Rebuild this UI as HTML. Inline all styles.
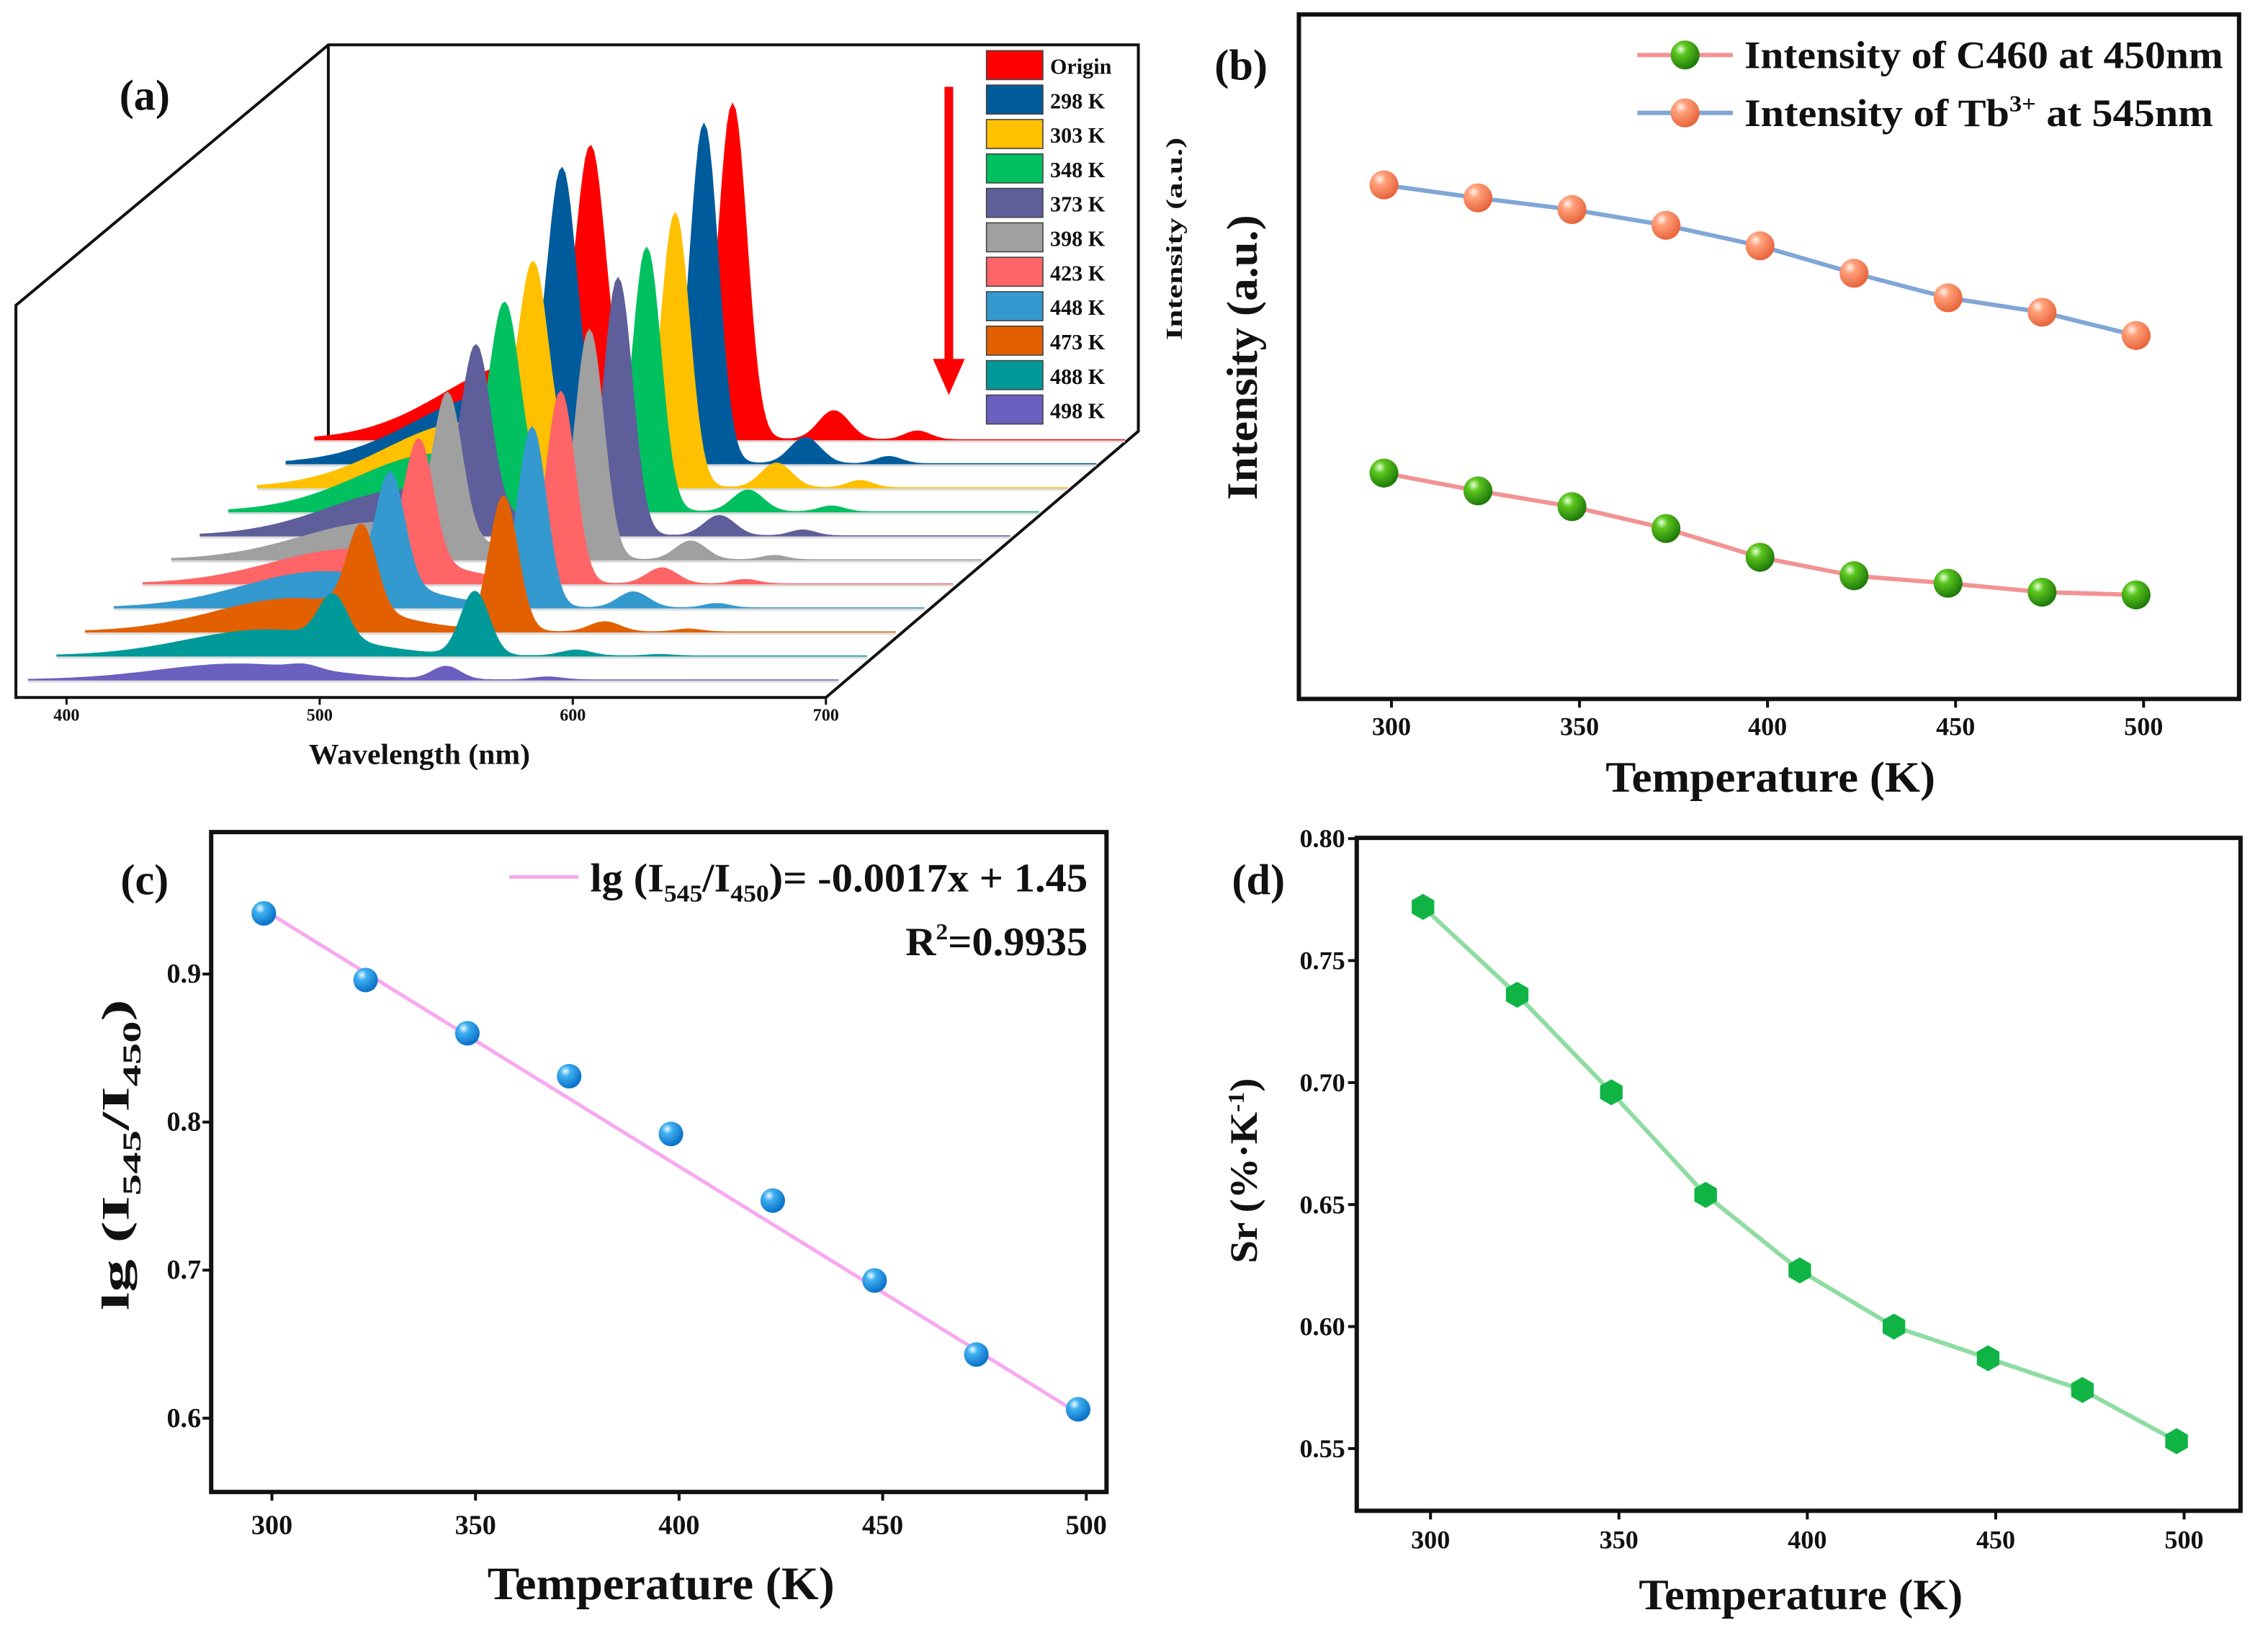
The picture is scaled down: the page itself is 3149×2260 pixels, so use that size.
<!DOCTYPE html>
<html><head><meta charset="utf-8">
<style>
html,body{margin:0;padding:0;background:#fff;}
svg{display:block;}
text{font-family:"Liberation Serif",serif;font-weight:bold;fill:#111;}
</style></head>
<body>
<svg id="fig" xmlns="http://www.w3.org/2000/svg" width="3149" height="2260" viewBox="0 0 1568 1125" preserveAspectRatio="none">
<defs>
<radialGradient id="gGreen" cx="0.35" cy="0.3" r="0.7"><stop offset="0" stop-color="#e8ffd8"/><stop offset="0.3" stop-color="#5cc61e"/><stop offset="1" stop-color="#1f7a0a"/></radialGradient>
<radialGradient id="gOrange" cx="0.35" cy="0.3" r="0.7"><stop offset="0" stop-color="#fff2ea"/><stop offset="0.3" stop-color="#ffa07a"/><stop offset="1" stop-color="#e8653c"/></radialGradient>
<radialGradient id="gBlue" cx="0.35" cy="0.3" r="0.7"><stop offset="0" stop-color="#f0fbff"/><stop offset="0.3" stop-color="#3fb0f0"/><stop offset="1" stop-color="#0a70c8"/></radialGradient>
</defs>
</svg>
<script>
// ---------- Panel (a) data ----------
const aLabels = ["Origin","298 K","303 K","348 K","373 K","398 K","423 K","448 K","473 K","488 K","498 K"];
const aColors = ["#ff0000","#005b9c","#ffc000","#00c060","#5e5e9a","#a0a0a0","#ff6466","#3499cf","#e36000","#009999","#6b5fc0"];
const aBand  = [53,48,45,40,32,26,24,25,23,18,11];
const aP490  = [165,170,124,116,109,97,83,76,58,30,3];
const aP545  = [230,233,188,181,177,158,132,124,93,44,9];
const aP585  = [20,18,17,15,14,13,11,11,7,4,2];
const aP620  = [6,5,5,4,4,3,3,3,2,1,0];
const aTicks = [400,500,600,700];
// ---------- Panel (b) data ----------
const bTemps = [298,323,348,373,398,423,448,473,498];
const bTb = [75.1,73.2,71.5,69.2,66.2,62.2,58.6,56.5,53.1];
const bC460 = [33.0,30.4,28.1,24.9,20.7,18.0,16.9,15.6,15.2];
const bTicks = [300,350,400,450,500];
// ---------- Panel (c) data ----------
const cTemps = [298,323,348,373,398,423,448,473,498];
const cRatio = [0.941,0.896,0.860,0.831,0.792,0.747,0.693,0.643,0.606];
const cFit = [-0.0017,1.45];
const cXTicks = [300,350,400,450,500];
const cYTicks = [0.6,0.7,0.8,0.9];
// ---------- Panel (d) data ----------
const dTemps = [298,323,348,373,398,423,448,473,498];
const dSr = [0.772,0.736,0.696,0.654,0.623,0.600,0.587,0.574,0.553];
const dXTicks = [300,350,400,450,500];
const dYTicks = ["0.55","0.60","0.65","0.70","0.75","0.80"];

const NS="http://www.w3.org/2000/svg";
const svg=document.getElementById('fig');
function mk(tag,attrs,parent){const e=document.createElementNS(NS,tag);for(const k in attrs)e.setAttribute(k,attrs[k]);(parent||svg).appendChild(e);return e;}
function txt(s,x,y,size,anchor,parent){const t=mk('text',{x:x,y:y,'font-size':size,'text-anchor':anchor||'middle'},parent);t.textContent=s;return t;}
function fit(t,len){t.setAttribute('textLength',len);t.setAttribute('lengthAdjust','spacingAndGlyphs');}

// ===== Panel (a) =====
const gA=mk('g',{});


const frameA=mk('path',{d:'M11,482 L11,211 L227,31 L787,31 L787,298 L571,482 Z M227,31 L227,303',fill:'none',stroke:'#111','stroke-width':2},gA);


const nRows=aLabels.length;
function rowX(i,l){return 46+(nRows-1-i)*19.8+(l-400)*1.75;}
function rowY0(i){return 470-(nRows-1-i)*16.6;}
function gauss(l,c,s){return Math.exp(-(l-c)*(l-c)/(2*s*s));}
for(let i=0;i<nRows;i++){
  const y0=rowY0(i);
  let d='M'+rowX(i,385).toFixed(1)+','+y0;
  for(let l=385;l<=705;l+=1){
    const v=aBand[i]*gauss(l,468,32)+aP490[i]*gauss(l,494,5.5)+aP545[i]*gauss(l,550,5.5)+aP585[i]*gauss(l,590,6)+aP620[i]*gauss(l,623,5);
    d+=' L'+rowX(i,l).toFixed(1)+','+(y0-v).toFixed(1);
  }
  d+=' L'+rowX(i,705).toFixed(1)+','+y0+' Z';
  const p=mk('path',{d:d,fill:aColors[i],stroke:aColors[i],'stroke-width':1},gA);
  
  
  const bl=mk('line',{x1:rowX(i,385),y1:y0+1,x2:rowX(i,705),y2:y0+1,stroke:'#ddd','stroke-width':1.5},gA);
  
  
}
aTicks.forEach(t=>{
  const x=rowX(nRows-1,t);
  const tk=mk('line',{x1:x,y1:482,x2:x,y2:487,stroke:'#111','stroke-width':1.5},gA);
  
  
  const tl=txt(String(t),x,498,12,'middle',gA);
  
  
});
const axA=txt('Wavelength (nm)',290,528,20,'middle',gA);
fit(axA,153);


const labA=txt('(a)',100,76,30,'middle',gA);


const legA=mk('g',{},gA);


for(let i=0;i<nRows;i++){
  const y=35+i*23.8;
  const r=mk('rect',{x:682,y:y,width:39,height:20,fill:aColors[i],stroke:'#444','stroke-width':0.8},legA);
  
  
  const t=txt(aLabels[i],726,y+16,15,'start',legA);
  
  
}
const arr=mk('path',{d:'M656,60 L656,252',stroke:'#ff0000','stroke-width':6,fill:'none'},gA);


const arrH=mk('path',{d:'M645,248 L667,248 L656,273 Z',fill:'#ff0000'},gA);



function frame(x1,y1,x2,y2,name,parent){const r=mk('rect',{x:x1,y:y1,width:x2-x1,height:y2-y1,fill:'none',stroke:'#111','stroke-width':3},parent);return r;}
function series(temps,vals,xf,yf,lineColor,lw,parent,name){
  const pts=temps.map((t,i)=>xf(t).toFixed(1)+','+yf(vals[i]).toFixed(1)).join(' ');
  const pl=mk('polyline',{points:pts,fill:'none',stroke:lineColor,'stroke-width':lw},parent);
  
  
}

// ===== Panel (b) =====
const gB=mk('g',{});


const bx=t=>962+(t-300)*2.6;
const by=v=>483-v*4.73;
frame(898,10,1548,483,'plot-frame-b',gB);
bTicks.forEach(t=>{
  const tk=mk('line',{x1:bx(t),y1:483,x2:bx(t),y2:489,stroke:'#111','stroke-width':2},gB);
  
  
  const tl=txt(String(t),bx(t),508,18,'middle',gB);
  
  
});
series(bTemps,bTb,bx,by,'#7fa6d6',3,gB,'line-tb-545');
series(bTemps,bC460,bx,by,'#f29393',3,gB,'line-c460-450');
bTemps.forEach((t,i)=>{
  const c1=mk('circle',{cx:bx(t),cy:by(bTb[i]),r:10,fill:'url(#gOrange)'},gB);
  
  
  const c2=mk('circle',{cx:bx(t),cy:by(bC460[i]),r:10,fill:'url(#gGreen)'},gB);
  
  
});
const legB=mk('g',{},gB);


const lb1=mk('line',{x1:1132,y1:38,x2:1198,y2:38,stroke:'#f29393','stroke-width':3},legB);


const lm1=mk('circle',{cx:1165,cy:38,r:10,fill:'url(#gGreen)'},legB);


const lt1=txt('Intensity of C460 at 450nm',1206,47,27,'start',legB);
fit(lt1,331);


const lb2=mk('line',{x1:1132,y1:78,x2:1198,y2:78,stroke:'#7fa6d6','stroke-width':3},legB);


const lm2=mk('circle',{cx:1165,cy:78,r:10,fill:'url(#gOrange)'},legB);


const lt2=mk('text',{x:1206,y:87,'font-size':27,'text-anchor':'start',textLength:324,lengthAdjust:'spacingAndGlyphs'},legB);
lt2.innerHTML='Intensity of Tb<tspan dy="-10" font-size="16">3+</tspan><tspan dy="10"> at 545nm</tspan>';


const byt=txt('Intensity (a.u.)',0,0,30,'middle',gB);
fit(byt,197);
byt.setAttribute('transform','translate(869,247) rotate(-90)');


const byt2=txt('Intensity (a.u.)',0,0,16,'middle',gB);
fit(byt2,140);
byt2.setAttribute('transform','translate(817,165) rotate(-90)');


const bxt=txt('Temperature (K)',1224,547,30,'middle',gB);
fit(bxt,228);


const labB=txt('(b)',858,55,30,'middle',gB);



// ===== Panel (c) =====
const gC=mk('g',{});


const cx=t=>188+(t-300)*2.815;
const cy=v=>980-(v-0.6)*1023;
frame(146,575,765,1031,'plot-frame-c',gC);
cXTicks.forEach(t=>{
  const tk=mk('line',{x1:cx(t),y1:1031,x2:cx(t),y2:1037,stroke:'#111','stroke-width':2},gC);
  
  
  const tl=txt(String(t),cx(t),1060,19,'middle',gC);
  
  
});
cYTicks.forEach(v=>{
  const tk=mk('line',{x1:140,y1:cy(v),x2:146,y2:cy(v),stroke:'#111','stroke-width':2},gC);
  
  
  const tl=txt(v.toFixed(1),139,cy(v)+6,19,'end',gC);
  
  
});
const fitL=mk('line',{x1:cx(cTemps[0]),y1:cy(cFit[0]*cTemps[0]+cFit[1]),x2:cx(cTemps[8]),y2:cy(cFit[0]*cTemps[8]+cFit[1]),stroke:'#f7a8ef','stroke-width':2.5},gC);


cTemps.forEach((t,i)=>{
  const c=mk('circle',{cx:cx(t),cy:cy(cRatio[i]),r:8.5,fill:'url(#gBlue)'},gC);
  
  
});
const lcl=mk('line',{x1:352,y1:606,x2:400,y2:606,stroke:'#f7a8ef','stroke-width':2.5},gC);


const lct=mk('text',{x:408,y:616,'font-size':28,'text-anchor':'start',textLength:344,lengthAdjust:'spacingAndGlyphs'},gC);
lct.innerHTML='lg (I<tspan dy="7" font-size="17">545</tspan><tspan dy="-7">/I</tspan><tspan dy="7" font-size="17">450</tspan><tspan dy="-7">)= -0.0017x + 1.45</tspan>';


const lcr=mk('text',{x:626,y:660,'font-size':28,'text-anchor':'start',textLength:126,lengthAdjust:'spacingAndGlyphs'},gC);
lcr.innerHTML='R<tspan dy="-11" font-size="16">2</tspan><tspan dy="11">=0.9935</tspan>';


const cyt=mk('text',{x:0,y:0,'font-size':27,'text-anchor':'middle',transform:'translate(89,798) rotate(-90)',textLength:215,lengthAdjust:'spacingAndGlyphs'},gC);
cyt.innerHTML='lg (I<tspan dy="8" font-size="18">545</tspan><tspan dy="-8">/I</tspan><tspan dy="8" font-size="18">450</tspan><tspan dy="-8">)</tspan>';


const cxt=txt('Temperature (K)',457,1105,32,'middle',gC);
fit(cxt,240);


const labC=txt('(c)',100,618,30,'middle',gC);



// ===== Panel (d) =====
const gD=mk('g',{});


const dx=t=>989+(t-300)*2.605;
const dy=v=>1001-(v-0.55)*1686;
frame(938,579,1549,1044,'plot-frame-d',gD);
dXTicks.forEach(t=>{
  const tk=mk('line',{x1:dx(t),y1:1044,x2:dx(t),y2:1050,stroke:'#111','stroke-width':2},gD);
  
  
  const tl=txt(String(t),dx(t),1070,18,'middle',gD);
  
  
});
dYTicks.forEach(s=>{
  const v=parseFloat(s);
  const tk=mk('line',{x1:932,y1:dy(v),x2:938,y2:dy(v),stroke:'#111','stroke-width':2},gD);
  
  
  const tl=txt(s,930,dy(v)+6,18,'end',gD);
  
  
});
series(dTemps,dSr,dx,dy,'#8fdca2',3,gD,'line-sr');
dTemps.forEach((t,i)=>{
  const X=dx(t),Y=dy(dSr[i]),r=9;let pts=[];
  for(let k=0;k<6;k++){const a=Math.PI/6+k*Math.PI/3;pts.push((X+r*Math.cos(a)).toFixed(1)+','+(Y+r*Math.sin(a)).toFixed(1));}
  const h=mk('polygon',{points:pts.join(' '),fill:'#10b445'},gD);
  
  
});
const dyt=mk('text',{x:0,y:0,'font-size':27,'text-anchor':'middle',transform:'translate(869,809) rotate(-90)',textLength:128,lengthAdjust:'spacingAndGlyphs'},gD);
dyt.innerHTML='Sr (%·K<tspan dy="-9" font-size="16">-1</tspan><tspan dy="9">)</tspan>';


const dxt=txt('Temperature (K)',1245,1112,30,'middle',gD);
fit(dxt,224);


const labD=txt('(d)',870,618,30,'middle',gD);


</script>
</body></html>
